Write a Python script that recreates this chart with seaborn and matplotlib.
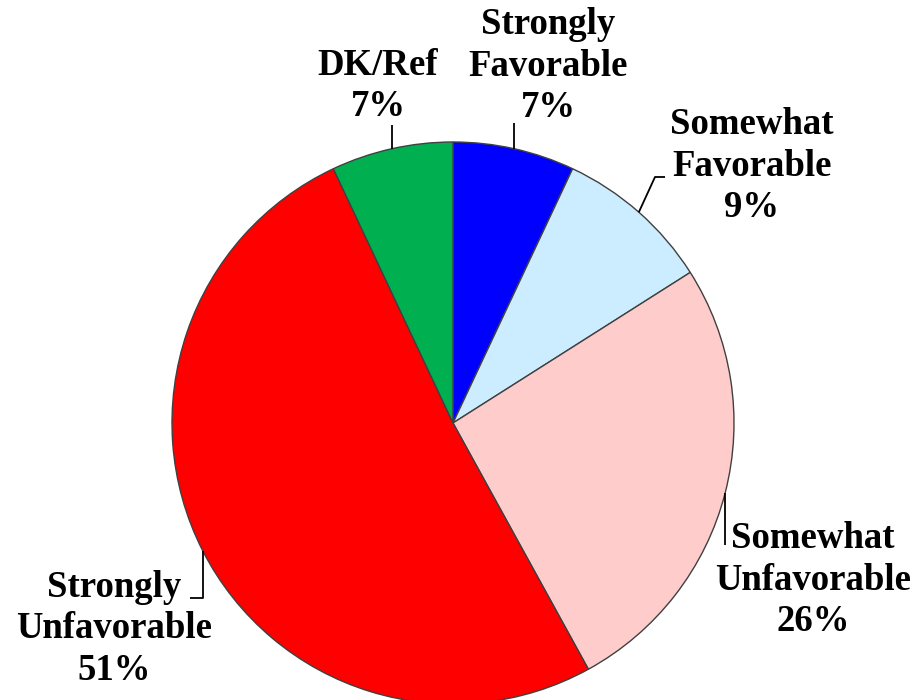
import numpy as np
import matplotlib
matplotlib.use("Agg")
import matplotlib.pyplot as plt
import seaborn as sns

# data
categories = ["Strongly\nFavorable", "Somewhat\nFavorable", "Somewhat\nUnfavorable",
              "Strongly\nUnfavorable", "DK/Ref"]
values = [7, 9, 26, 51, 7]
colors = ["#0000FF", "#CCECFF", "#FFCCCC", "#FF0000", "#00B050"]

sns.set_theme(style="white")
plt.rcParams['font.family'] = ['Liberation Serif', 'DejaVu Serif']

W, H = 916, 700
fig = plt.figure(figsize=(W / 100, H / 100), dpi=100)
ax = fig.add_axes([0, 0, 1, 1])

cx, cy, r = 453, H - 423, 281
wedges, _ = ax.pie(values, colors=colors, startangle=90, counterclock=False,
                   center=(cx, cy), radius=r,
                   wedgeprops=dict(edgecolor="#404040", linewidth=1.0))
ax.set_xlim(0, W)
ax.set_ylim(0, H)
ax.set_aspect("equal")
ax.axis("off")

# label centres (pixel coords, y from top) and leader line bends
label_pos = [(548, 66), (752, 166), (813, 580), (114, 629), (378, 86)]
leaders = [
    [(None, 123)],                 # strongly favorable: up
    [(655, 177), (665, 177)],      # somewhat favorable: elbow
    [(None, 545)],                 # somewhat unfavorable: down
    [(None, 598), (190, 598)],     # strongly unfavorable: elbow
    [(None, 125)],                 # dk/ref: up
]

for w, lab, v, (lx, ly), pts in zip(wedges, categories, values, label_pos, leaders):
    ang = np.deg2rad((w.theta1 + w.theta2) / 2)
    x0, y0 = cx + r * np.cos(ang), cy + r * np.sin(ang)
    xs, ys = [x0], [y0]
    for px, py in pts:
        xs.append(x0 if px is None else px)
        ys.append(H - py)
    ax.plot(xs, ys, color="black", lw=1.3, solid_capstyle="butt")
    ax.text(lx, H - ly, f"{lab}\n{v}%", ha="center", va="center",
            fontsize=26.5, fontweight="bold", linespacing=1.25, color="black")

fig.savefig("out.png", dpi=100)
